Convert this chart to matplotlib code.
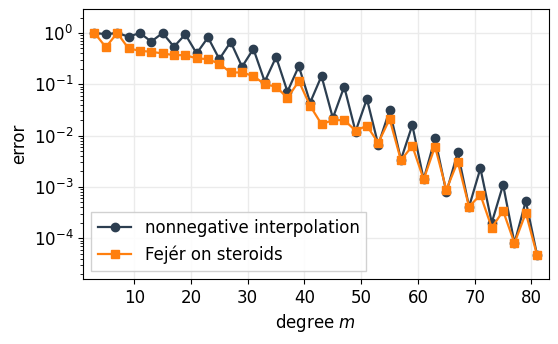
import numpy as np
import matplotlib.pyplot as plt

# polynomial degrees (odd, 3..81)
degrees = list(range(3, 82, 2))

err_nonneg = [
    1.0, 0.95, 1.0, 0.85, 1.0, 0.68, 1.0, 0.54, 0.94, 0.40,
    0.82, 0.31, 0.67, 0.22, 0.49, 0.113, 0.34, 0.072, 0.225, 0.044,
    0.145, 0.022, 0.09, 0.012, 0.052, 0.0066, 0.031, 0.0034, 0.016, 0.0014,
    0.0088, 0.00078, 0.0047, 0.00041, 0.0023, 0.0002, 0.0011, 0.00008, 0.00053, 0.000046,
]

err_fejer = [
    1.0, 0.53, 1.0, 0.50, 0.45, 0.43, 0.40, 0.37, 0.37, 0.32,
    0.31, 0.25, 0.17, 0.17, 0.145, 0.10, 0.09, 0.054, 0.115, 0.038,
    0.0167, 0.020, 0.020, 0.0125, 0.0155, 0.0072, 0.021, 0.0033, 0.0063, 0.0014,
    0.0061, 0.00088, 0.0031, 0.00041, 0.00070, 0.00016, 0.00034, 0.00008, 0.00031, 0.000046,
]

fig, ax = plt.subplots(figsize=(5.58, 3.44), dpi=100)
fig.subplots_adjust(left=0.149, right=0.983, top=0.973, bottom=0.189)

ax.semilogy(degrees, err_nonneg, "-o", color="#2c3e50", lw=1.6, ms=6,
            label="nonnegative interpolation")
ax.semilogy(degrees, err_fejer, "-s", color="#ff7f0e", lw=1.6, ms=5.5,
            label="Fejér on steroids")

ax.set_xlim(1, 83)
ax.set_ylim(1.6e-5, 2.9)
ax.grid(True, color="#ebebeb", lw=1.0)
ax.set_axisbelow(True)

ax.set_xlabel("degree $m$", fontsize=12)
ax.set_ylabel("error", fontsize=12)
ax.tick_params(labelsize=12)

ax.legend(loc="lower left", fontsize=12, fancybox=False, framealpha=0.9)

fig.savefig("out.png", dpi=100)
